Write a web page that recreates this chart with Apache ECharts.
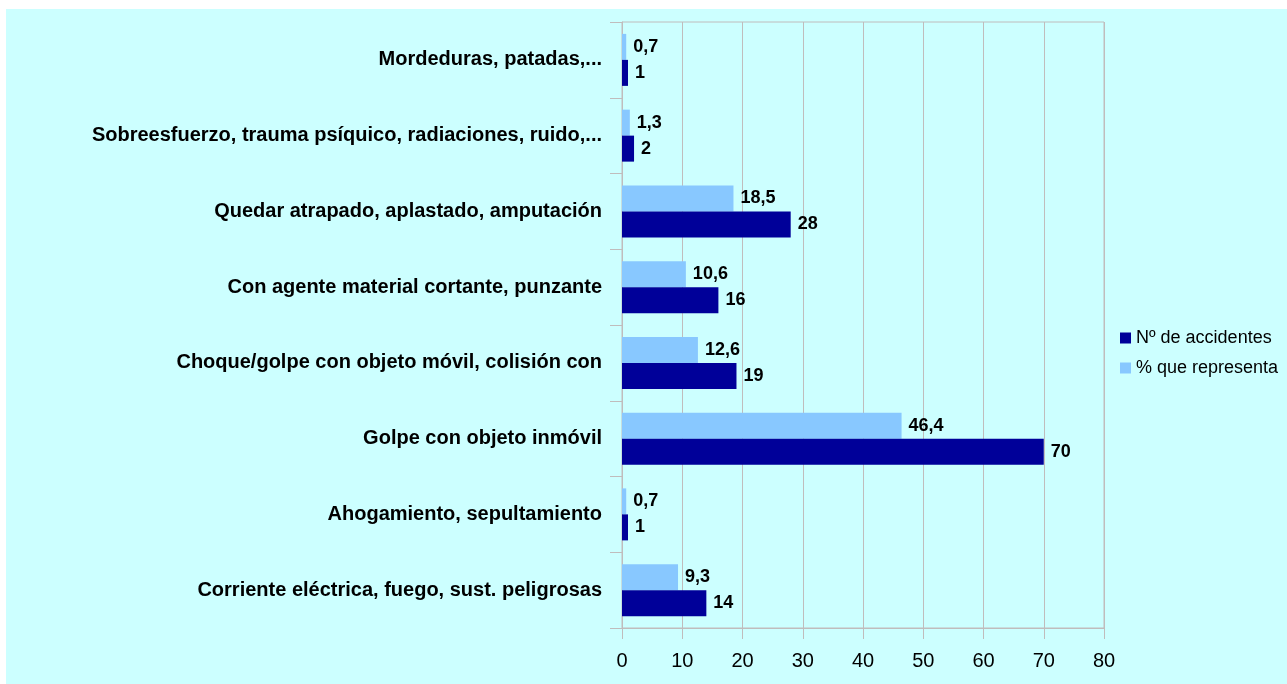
<!DOCTYPE html>
<html>
<head>
<meta charset="utf-8">
<script src="https://cdn.jsdelivr.net/npm/echarts@6/dist/echarts.min.js"></script>
<style>
  html, body { margin: 0; padding: 0; background: #fff; }
  #main { position: absolute; left: 6px; top: 9px; width: 1281px; height: 675px; }
</style>
</head>
<body>
<div id="main"></div>
<script>
var categories = [
	'Mordeduras, patadas,...',
	'Sobreesfuerzo, trauma psíquico, radiaciones, ruido,...',
	'Quedar atrapado, aplastado, amputación',
	'Con agente material cortante, punzante',
	'Choque/golpe con objeto móvil, colisión con',
	'Golpe con objeto inmóvil',
	'Ahogamiento, sepultamiento',
	'Corriente eléctrica, fuego, sust. peligrosas'
];
var accidentes = [1, 2, 28, 16, 19, 70, 1, 14];
var porcentaje = [0.7, 1.3, 18.5, 10.6, 12.6, 46.4, 0.7, 9.3];
var xTicks = [0, 10, 20, 30, 40, 50, 60, 70, 80];

var chart = echarts.init(document.getElementById('main'));

var font = '"Liberation Sans", Arial, sans-serif';
var lineColor = '#c0bcbc';

function comma(p) {
	return String(p.value).replace('.', ',');
}

var barLabel = {
	show: true,
	position: 'right',
	distance: 7,
	color: '#000',
	fontSize: 18,
	fontWeight: 'bold',
	fontFamily: font,
	formatter: comma
};

var option = {
	backgroundColor: '#ccffff',
	animation: false,
	textStyle: { fontFamily: font },
	grid: {
		left: 616,
		right: 183,
		top: 13,
		bottom: 56,
		show: true,
		borderColor: lineColor,
		borderWidth: 1,
		backgroundColor: 'transparent'
	},
	legend: {
		orient: 'vertical',
		left: 1109,
		top: 315,
		itemWidth: 11,
		itemHeight: 11,
		itemGap: 12,
		icon: 'rect',
		textStyle: { fontSize: 18, color: '#000', fontFamily: font },
		data: ['Nº de accidentes', '% que representa']
	},
	xAxis: {
		type: 'value',
		min: xTicks[0],
		max: xTicks[xTicks.length - 1],
		interval: 10,
		axisLine: { show: true, lineStyle: { color: lineColor } },
		axisTick: { show: true, length: 11, lineStyle: { color: lineColor } },
		axisLabel: { color: '#000', fontSize: 20, margin: 23, fontFamily: font },
		splitLine: { show: true, lineStyle: { color: lineColor } }
	},
	yAxis: {
		type: 'category',
		inverse: true,
		data: categories,
		axisLine: { show: true, lineStyle: { color: lineColor } },
		axisTick: { show: true, length: 12, interval: 0, lineStyle: { color: lineColor } },
		axisLabel: { color: '#000', fontSize: 20, fontWeight: 'bold', margin: 20, fontFamily: font },
		splitLine: { show: false }
	},
	series: [
		{
			name: '% que representa',
			type: 'bar',
			data: porcentaje,
			barWidth: 26,
			barGap: '0%',
			itemStyle: { color: '#88c8ff' },
			label: barLabel
		},
		{
			name: 'Nº de accidentes',
			type: 'bar',
			data: accidentes,
			barWidth: 26,
			barGap: '0%',
			itemStyle: { color: '#000099' },
			label: barLabel
		}
	]
};

chart.setOption(option);
</script>
</body>
</html>
